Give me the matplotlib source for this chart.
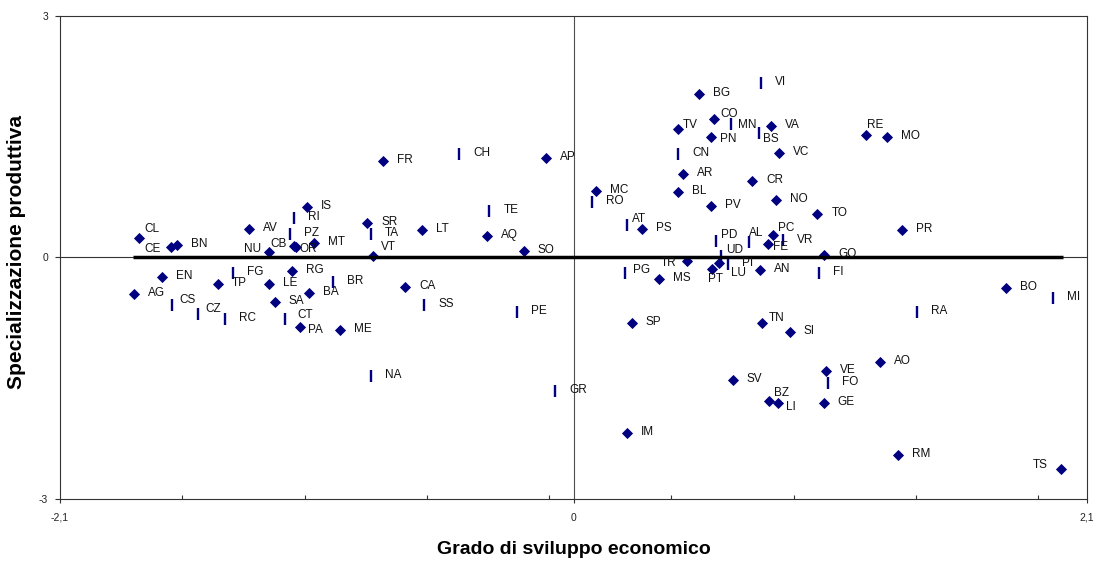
import matplotlib
matplotlib.use("Agg")
import matplotlib.pyplot as plt

plt.rcParams['font.family'] = ['Liberation Sans', 'DejaVu Sans']

# ---------------- data ----------------
diamond_labels = ["CL", "CE", "BN", "AV", "IS", "NU", "CB", "OR", "MT", "EN", "TP", "LE", "RG",
                  "AG", "SA", "BA", "PA", "ME", "FR", "AP", "SR", "LT", "VT", "AQ", "SO", "CA",
                  "BG", "CO", "TV", "VA", "PN", "VC", "AR", "CR", "MC", "BL", "NO", "PV", "TO",
                  "PS", "PC", "FE", "GO", "TR", "PT", "LU", "AN", "MS", "SP", "TN", "SI", "VE",
                  "SV", "BZ", "LI", "GE", "IM", "AO", "RE", "MO", "PR", "BO", "RM", "TS"]
diamond_x = [-1.778, -1.646, -1.623, -1.327, -1.089, -1.244, -1.142, -1.135, -1.060, -1.684,
             -1.454, -1.244, -1.151, -1.798, -1.221, -1.083, -1.117, -0.955, -0.779, -0.112,
             -0.843, -0.620, -0.821, -0.353, -0.204, -0.688,
             0.512, 0.575, 0.427, 0.807, 0.562, 0.840, 0.449, 0.730, 0.091, 0.427, 0.828, 0.562,
             0.997, 0.281, 0.815, 0.794, 1.025, 0.464, 0.568, 0.593, 0.764, 0.351, 0.239, 0.772,
             0.884, 1.033, 0.652, 0.798, 0.836, 1.023, 0.218, 1.254, 1.195, 1.283, 1.342, 1.770,
             1.327, 1.994]
diamond_y = [0.244, 0.132, 0.153, 0.352, 0.621, 0.070, 0.140, 0.128, 0.181, -0.241,
             -0.332, -0.332, -0.170, -0.460, -0.552, -0.440, -0.862, -0.903, 1.193, 1.234,
             0.423, 0.339, 0.020, 0.265, 0.075, -0.373,
             2.033, 1.719, 1.591, 1.635, 1.499, 1.300, 1.035, 0.952, 0.820, 0.815, 0.708, 0.641,
             0.534, 0.352, 0.273, 0.162, 0.026, -0.050, -0.145, -0.065, -0.158, -0.270, -0.816,
             -0.816, -0.928, -1.417, -1.525, -1.790, -1.811, -1.811, -2.183, -1.305, 1.520,
             1.499, 0.336, -0.378, -2.453, -2.627]

dash_labels = ["RI", "PZ", "FG", "CS", "CZ", "RC", "BR", "CT", "CH", "TA", "TE", "SS", "PE",
               "NA", "GR", "VI", "MN", "BS", "CN", "RO", "AT", "PD", "AL", "VR", "UD", "PI",
               "FI", "PG", "FO", "MI", "RA"]
dash_x = [-1.144, -1.158, -1.391, -1.641, -1.537, -1.424, -0.983, -1.179, -0.468, -0.828,
          -0.344, -0.611, -0.231, -0.830, -0.076, 0.766, 0.645, 0.759, 0.429, 0.077, 0.220,
          0.583, 0.718, 0.858, 0.605, 0.633, 1.005, 0.212, 1.042, 1.961, 1.405]
dash_y = [0.485, 0.290, -0.199, -0.593, -0.708, -0.767, -0.307, -0.767, 1.284, 0.290,
          0.575, -0.593, -0.683, -1.477, -1.661, 2.170, 1.653, 1.541, 1.284, 0.683, 0.398,
          0.203, 0.190, 0.215, 0.020, -0.077, -0.195, -0.199, -1.566, -0.506, -0.683]

line_x = [-1.8, 2.0]
line_y = [0.0, 0.0]

x_tick_vals = [-2.1, 0.0, 2.1]
x_tick_text = ["-2,1", "0", "2,1"]
x_minor_vals = [-1.6, -1.1, -0.6, -0.1, 0.4, 0.9, 1.4, 1.9]
y_tick_vals = [-3, 0, 3]
y_tick_text = ["-3", "0", "3"]

# label offsets in pixels (right, down) relative to the marker
default_offset = (14, -1)
label_offsets = {
    "CL": (5.6, -8.4), "CE": (-27, 2.3), "NU": (-25.3, -2.3), "CB": (-24.3, -2),
    "OR": (3.3, 2.3), "CS": (7.4, -4.7), "CZ": (8, -5), "CT": (12, -4), "PA": (7.4, 3.6),
    "VT": (8.3, -8.7), "CO": (6, -5), "TV": (5.3, -4.3), "MN": (6.7, 0.7), "PN": (9, 2.3),
    "BS": (4.3, 5.7), "AT": (4.7, -6.3), "PD": (5.3, -6), "AL": (-0.3, -8.7), "PC": (5.6, -7),
    "VR": (13.4, 0), "FE": (5.6, 3), "UD": (4.7, -6), "TR": (-26, 1.4), "PI": (13.4, -0.5),
    "LU": (12.8, 10.2), "PT": (-4.6, 10), "PG": (8, -3.3), "TN": (7, -4.7), "BZ": (5.3, -8),
    "LI": (8, 4.3), "RE": (1, -10), "TS": (-28.7, -3.7),
}

navy = "#000080"

# ---------------- figure ----------------
W, H = 1095, 563
fig = plt.figure(figsize=(W / 100, H / 100), dpi=100)
ax = fig.add_axes([60 / W, 1 - 498.7 / H, (1087 - 60) / W, (498.7 - 16) / H])
ax.set_xlim(-2.1, 2.1)
ax.set_ylim(-3, 3)

ax.axvline(0, color="#4d4d4d", lw=0.8, zorder=1)
ax.axhline(0, color="#333333", lw=0.8, zorder=1)

ax.plot(diamond_x, diamond_y, linestyle="none", marker="D", markersize=5.6,
        markerfacecolor=navy, markeredgecolor=navy, markeredgewidth=0.6, zorder=3)
ax.plot(dash_x, dash_y, linestyle="none", marker="|", markersize=8.6,
        markeredgecolor=navy, markeredgewidth=1.7, zorder=3)
ax.plot(line_x, line_y, color="black", lw=2.5, solid_capstyle="butt", zorder=4)

for labs, xs, ys in [(diamond_labels, diamond_x, diamond_y), (dash_labels, dash_x, dash_y)]:
    for lab, xv, yv in zip(labs, xs, ys):
        dx, dy = label_offsets.get(lab, default_offset)
        ax.annotate(lab, (xv, yv), xytext=(dx, -dy), textcoords="offset pixels",
                    ha="left", va="center", fontsize=8.5, color="#111111", zorder=5)

for s in ax.spines.values():
    s.set_color("#333333")
    s.set_linewidth(0.8)

ax.set_xticks(x_tick_vals)
ax.set_xticklabels(x_tick_text)
ax.set_xticks(x_minor_vals, minor=True)
ax.set_yticks(y_tick_vals)
ax.set_yticklabels(y_tick_text)
ax.tick_params(axis="x", which="major", direction="out", length=3, width=0.8, pad=7,
               labelsize=7.5, color="#333333", labelcolor="#222222")
ax.tick_params(axis="x", which="minor", direction="in", length=3, width=0.8, color="#333333")
ax.tick_params(axis="y", which="major", direction="out", length=3.5, width=0.8, pad=5,
               labelsize=7.5, color="#333333", labelcolor="#222222")

fig.text(574 / W, 1 - 550 / H, "Grado di sviluppo economico", ha="center", va="center",
         fontsize=14, fontweight="bold")
fig.text(17 / W, 1 - 252 / H, "Specializzazione produttiva", ha="center", va="center",
         rotation=90, fontsize=15, fontweight="bold")

fig.savefig("out.png", dpi=100)
